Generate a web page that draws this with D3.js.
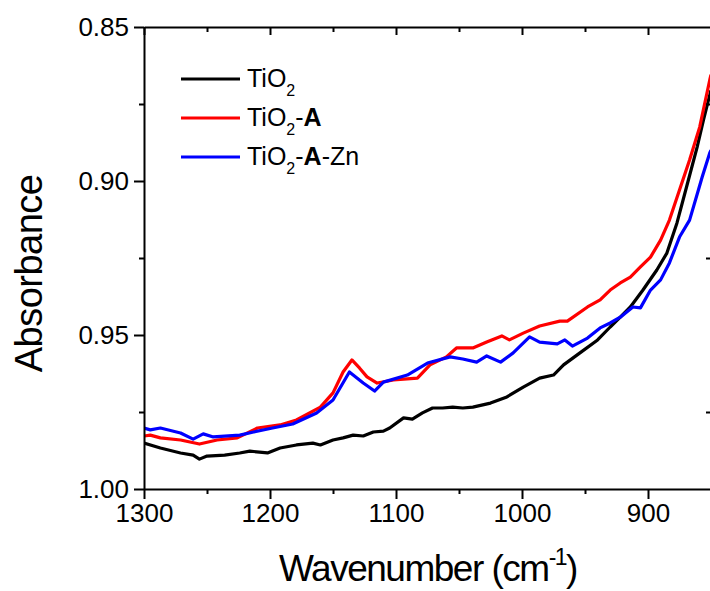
<!DOCTYPE html>
<html>
<head>
<meta charset="utf-8">
<script src="https://cdn.jsdelivr.net/npm/d3@7"></script>
<style>
  html, body { margin: 0; padding: 0; background: #fff; }
  svg { display: block; }
  svg text { font-family: "Liberation Sans", Arial, sans-serif; }
</style>
</head>
<body>
<div id="chart"></div>
<script>
// Wavenumber (cm-1) and absorbance
const tio2Wn = [1300,1287,1271,1261,1256,1250,1236,1224,1216,1202,1192,1179,1166,1160,1150,1142,1134,1126,1118,1110,1105,1094,1087,1079,1071,1063,1055,1047,1039,1025,1012,999,986,975,967,954,940,930,922,914,904,893,885,877,869,861,856,851,850];
const tio2Abs = [.9851,.9867,.9883,.9890,.9903,.9893,.9890,.9883,.9877,.9883,.9867,.9857,.9851,.9857,.9841,.9834,.9825,.9828,.9815,.9812,.9802,.9769,.9773,.9753,.9737,.9737,.9734,.9737,.9734,.9721,.9701,.9669,.9640,.9630,.9597,.9558,.9516,.9474,.9442,.9409,.9354,.9289,.9234,.9136,.9013,.8890,.8802,.8721,.8705];

const tio2AWn = [1300,1295,1287,1271,1256,1242,1226,1210,1192,1179,1160,1150,1142,1135,1129,1123,1115,1102,1083,1073,1060,1052,1039,1028,1016,1010,999,986,970,964,948,938,930,922,914,906,898,890,883,875,867,859,851,850];
const tio2AAbs = [.9828,.9825,.9834,.9841,.9854,.9841,.9834,.9802,.9792,.9776,.9734,.9688,.9620,.9581,.9607,.9636,.9656,.9646,.9640,.9597,.9571,.9542,.9542,.9523,.9503,.9516,.9494,.9471,.9455,.9455,.9409,.9386,.9354,.9331,.9312,.9279,.9247,.9192,.9127,.9029,.8932,.8825,.8672,.8655];

const tio2AZnWn = [1300,1295,1287,1271,1261,1253,1245,1224,1213,1198,1182,1163,1150,1137,1126,1117,1110,1091,1075,1057,1047,1036,1028,1017,1007,994,986,972,966,960,948,938,930,922,912,906,898,890,883,875,867,860,857,851,850];
const tio2AZnAbs = [.9802,.9808,.9802,.9818,.9838,.9821,.9831,.9825,.9815,.9802,.9789,.9753,.9711,.9620,.9656,.9682,.9653,.9630,.9591,.9571,.9578,.9588,.9568,.9588,.9558,.9506,.9523,.9529,.9516,.9536,.9510,.9477,.9461,.9442,.9409,.9412,.9354,.9321,.9266,.9182,.9127,.9029,.8987,.8909,.8900];

const seriesNames = ['TiO2', 'TiO2-A', 'TiO2-A-Zn'];
const seriesColors = ['#000000', '#ff0000', '#0000ff'];

const xMajor = [1300, 1200, 1100, 1000, 900];
const xMinor = [1250, 1150, 1050, 950, 850];
const yMajor = [0.85, 0.90, 0.95, 1.00];
const yMinor = [0.875, 0.925, 0.975];

const series = [
  { name: seriesNames[0], color: seriesColors[0], wn: tio2Wn, abs: tio2Abs },
  { name: seriesNames[1], color: seriesColors[1], wn: tio2AWn, abs: tio2AAbs },
  { name: seriesNames[2], color: seriesColors[2], wn: tio2AZnWn, abs: tio2AZnAbs }
];

const FONT = '"Liberation Sans", Arial, sans-serif';
const W = 710, H = 591;
const margin = { top: 27, right: -1, bottom: 102, left: 144 };
const innerW = W - margin.left - margin.right;
const innerH = H - margin.top - margin.bottom;

const svg = d3.select('#chart').append('svg')
  .attr('width', W)
  .attr('height', H)
  .attr('font-family', FONT);

const g = svg.append('g').attr('transform', `translate(${margin.left},${margin.top})`);

const x = d3.scaleLinear().domain([1300, 850]).range([0, innerW]);
const y = d3.scaleLinear().domain([0.85, 1.00]).range([0, innerH]);

svg.append('defs').append('clipPath').attr('id', 'plot-clip')
  .append('rect').attr('width', innerW).attr('height', innerH);

// curves
const line = d3.line().x(d => x(d[0])).y(d => y(d[1]));
const plot = g.append('g').attr('clip-path', 'url(#plot-clip)');
series.forEach(s => {
  plot.append('path')
    .datum(d3.zip(s.wn, s.abs))
    .attr('fill', 'none')
    .attr('stroke', s.color)
    .attr('stroke-width', 3.2)
    .attr('stroke-linejoin', 'round')
    .attr('d', line);
});

// axes (d3 sets its own font on the axis group, so override it)
function styleAxis(sel) {
  sel.attr('font-family', FONT).attr('font-size', 26);
  sel.select('.domain').attr('stroke', '#000').attr('stroke-width', 2);
  sel.selectAll('.tick line').attr('stroke', '#000').attr('stroke-width', 2);
  sel.selectAll('.tick text').attr('fill', '#000');
}

const fmtY = d3.format('.2f');

g.append('g').call(d3.axisLeft(y).tickValues(yMajor).tickFormat(fmtY).tickSizeInner(10).tickSizeOuter(0).tickPadding(5)).call(styleAxis);
g.append('g').call(d3.axisLeft(y).tickValues(yMinor).tickFormat('').tickSize(5)).call(styleAxis).select('.domain').remove();

g.append('g').attr('transform', `translate(0,${innerH})`)
  .call(d3.axisBottom(x).tickValues(xMajor).tickFormat(d3.format('d')).tickSizeInner(10).tickSizeOuter(0).tickPadding(5)).call(styleAxis);
g.append('g').attr('transform', `translate(0,${innerH})`)
  .call(d3.axisBottom(x).tickValues(xMinor).tickFormat('').tickSize(5)).call(styleAxis).select('.domain').remove();

// top and right: inward ticks, no labels
g.append('g').call(d3.axisBottom(x).tickValues(xMajor).tickFormat('').tickSizeInner(8).tickSizeOuter(0)).call(styleAxis);
g.append('g').call(d3.axisBottom(x).tickValues(xMinor).tickFormat('').tickSize(5)).call(styleAxis).select('.domain').remove();
g.append('g').attr('transform', `translate(${innerW},0)`)
  .call(d3.axisLeft(y).tickValues(yMajor).tickFormat('').tickSizeInner(-8).tickSizeOuter(0)).call(styleAxis);
g.append('g').attr('transform', `translate(${innerW},0)`)
  .call(d3.axisRight(y).tickValues(yMinor).tickFormat('').tickSize(-5)).call(styleAxis).select('.domain').remove();

// axis titles
svg.append('text')
  .attr('x', 428)
  .attr('y', 581)
  .attr('text-anchor', 'middle')
  .attr('font-size', 37)
  .attr('letter-spacing', -1.5)
  .attr('fill', '#000')
  .call(t => {
    t.append('tspan').text('Wavenumber (cm');
    t.append('tspan').attr('font-size', 23).attr('dy', -16).text('-1');
    t.append('tspan').attr('dy', 16).text(')');
  });

svg.append('text')
  .attr('transform', `translate(42,${margin.top + y(0.93)}) rotate(-90)`)
  .attr('text-anchor', 'middle')
  .attr('font-size', 38)
  .attr('letter-spacing', -0.5)
  .attr('fill', '#000')
  .text('Absorbance');

// legend
const legend = svg.append('g');
const legendY = [79, 118, 157];
const legendLabels = [
  [['TiO', 'n'], ['2', 's']],
  [['TiO', 'n'], ['2', 's'], ['-', 'n'], ['A', 'b']],
  [['TiO', 'n'], ['2', 's'], ['-', 'n'], ['A', 'b'], ['-Zn', 'n']]
];
series.forEach((s, i) => {
  legend.append('line')
    .attr('x1', 181).attr('x2', 240)
    .attr('y1', legendY[i]).attr('y2', legendY[i])
    .attr('stroke', s.color).attr('stroke-width', 3.2);
  const t = legend.append('text')
    .attr('x', 247)
    .attr('y', legendY[i] + 8)
    .attr('font-size', 25)
    .attr('fill', '#000');
  let shifted = false;
  legendLabels[i].forEach(([txt, kind]) => {
    const sp = t.append('tspan').text(txt);
    if (kind === 's') { sp.attr('font-size', 16).attr('dy', 9); shifted = true; }
    else if (shifted) { sp.attr('dy', -9); shifted = false; }
    if (kind === 'b') sp.attr('font-weight', 'bold');
  });
});
</script>
</body>
</html>
